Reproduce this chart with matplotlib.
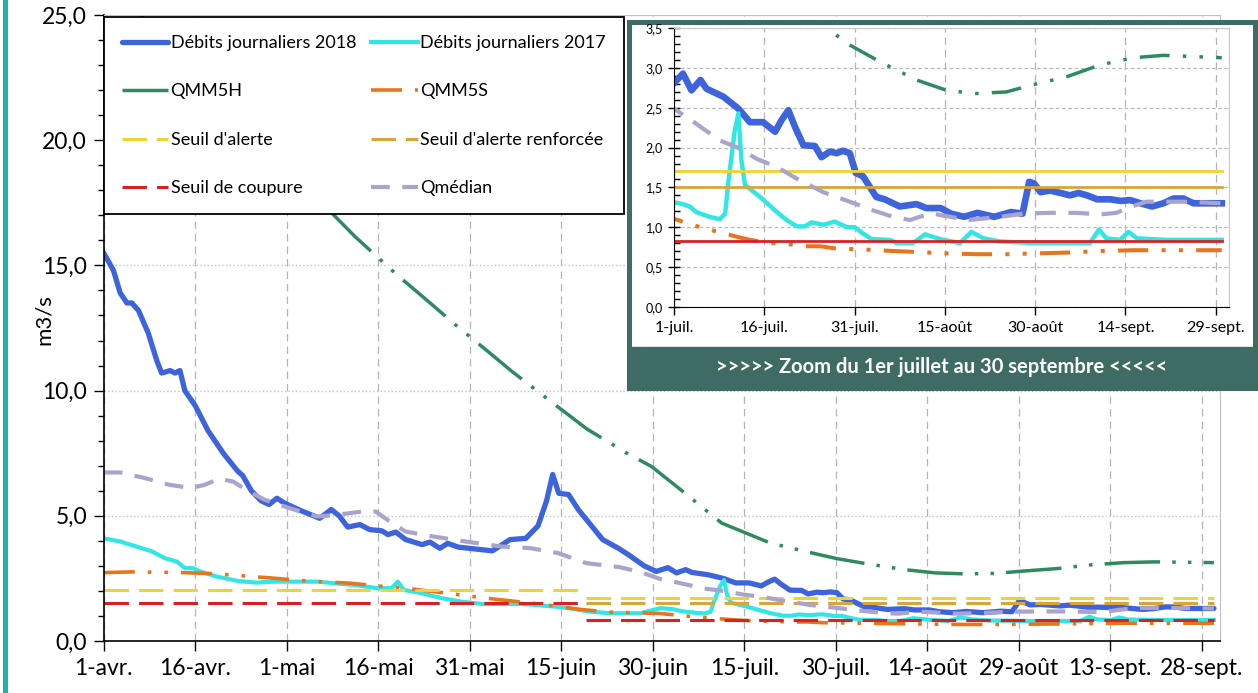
import numpy as np
import matplotlib
matplotlib.use('Agg')
import matplotlib.pyplot as plt
from matplotlib.patches import Rectangle
from matplotlib.ticker import MultipleLocator, FuncFormatter, FixedLocator

plt.rcParams['font.family'] = ['Lato', 'DejaVu Sans']

# x axis: days counted from 1 April 2018
main_ticks = [0, 15, 30, 45, 60, 75, 90, 105, 120, 135, 150, 165, 180]
main_labels = ['1-avr.', '16-avr.', '1-mai', '16-mai', '31-mai', '15-juin', '30-juin',
               '15-juil.', '30-juil.', '14-août', '29-août', '13-sept.', '28-sept.']
zoom_ticks = [91, 106, 121, 136, 151, 166, 181]
zoom_labels = ['1-juil.', '16-juil.', '31-juil.', '15-août', '30-août', '14-sept.', '29-sept.']

# Débits journaliers 2018 (m3/s)
q2018_day = [0, 1.6, 2.7, 3.8, 4.6, 5.7, 7.3, 8.7, 9.5, 10.9, 11.7, 12.5, 13.3, 15, 17.1,
             19.6, 21.9, 22.8, 24.2, 25.8, 27.1, 28.4, 29.7, 32.4, 35.4, 37.3, 38.6, 40,
             42, 43.6, 45.6, 46.6, 47.9, 49.5, 52.2, 53.5, 55.1, 56.4, 58.1, 60, 63.7,
             64.7, 66.6, 69.2, 71.2, 72.6, 73.6, 74.6, 76.2, 77.8, 79.8, 81.8, 84.4, 86.3,
             88.6, 90.6, 92.5, 93.9, 95.4, 96.4, 99.2, 101.7, 103.6, 105.8, 107.8, 108.9,
             110, 111.1, 112.5, 114.4, 115.5, 116.9, 118, 119.1, 120.2, 121.2, 122.4,
             124.6, 126, 128.5, 131.3, 132.9, 135.3, 137, 139.2, 141.4, 144.2, 147, 148.9,
             150, 150.8, 151.9, 153.5, 155.2, 156.8, 158.2, 159.6, 161.3, 163.5, 165.2,
             166.8, 168.5, 170.4, 172.3, 174, 175.6, 177.3, 182]
q2018 = [15.5, 14.8, 13.9, 13.5, 13.5, 13.2, 12.3, 11.2, 10.7, 10.8, 10.7, 10.8, 10.0, 9.4, 8.4,
         7.5, 6.8, 6.6, 6.0, 5.6, 5.45, 5.7, 5.5, 5.2, 4.9, 5.25, 5.0, 4.55,
         4.65, 4.45, 4.4, 4.25, 4.35, 4.05, 3.85, 3.95, 3.7, 3.9, 3.75, 3.7, 3.6,
         3.75, 4.05, 4.1, 4.6, 5.6, 6.65, 5.9, 5.85, 5.25, 4.65, 4.05, 3.7, 3.4,
         3.0, 2.78, 2.93, 2.72, 2.85, 2.74, 2.64, 2.49, 2.32, 2.32, 2.20, 2.35,
         2.47, 2.26, 2.03, 2.02, 1.88, 1.95, 1.93, 1.96, 1.93, 1.68, 1.64,
         1.38, 1.35, 1.26, 1.29, 1.24, 1.24, 1.17, 1.13, 1.18, 1.13, 1.19, 1.17,
         1.57, 1.55, 1.44, 1.46, 1.43, 1.40, 1.43, 1.40, 1.35, 1.35, 1.33,
         1.34, 1.30, 1.26, 1.30, 1.36, 1.36, 1.30, 1.30]

# Débits journaliers 2017
q2017_day = [0, 2.75, 5.4, 8, 10, 12, 13.3, 14.6, 15.9, 18.6, 21.9, 25.1, 27.7, 31, 35, 37.7,
             41, 44.9, 47.2, 48.2, 49.2, 52.1, 55.4, 58.7, 62, 68.6, 75.2, 79.8, 83.1, 88,
             91.2, 92.5, 93.6, 94.7, 96.9, 98.6, 99.5, 100, 101.1, 101.7, 102.2, 102.8,
             105.3, 108.1, 109.7, 111.4, 112.7, 113.9, 115.8, 117.7, 119.7, 121, 122.4,
             123.8, 126.9, 128, 130.7, 132.7, 135.2, 138.5, 140.4, 142.4, 145.2, 150.7,
             156.2, 160.1, 161.6, 162.8, 165.1, 166.5, 167.9, 172.8, 182]
q2017 = [4.1, 3.97, 3.77, 3.57, 3.31, 3.17, 2.91, 2.91, 2.77, 2.57, 2.4, 2.33, 2.37, 2.37, 2.37, 2.31,
         2.24, 2.11, 2.11, 2.37, 2.04, 1.91, 1.71, 1.57, 1.48, 1.48, 1.35, 1.17, 1.11, 1.11,
         1.31, 1.29, 1.26, 1.19, 1.13, 1.10, 1.17, 1.55, 2.22, 2.43, 1.84, 1.53,
         1.38, 1.19, 1.09, 1.01, 1.01, 1.06, 1.03, 1.07, 1.0, 1.0, 0.92,
         0.85, 0.84, 0.80, 0.80, 0.91, 0.85, 0.80, 0.94, 0.86, 0.82, 0.80,
         0.80, 0.80, 0.97, 0.86, 0.84, 0.94, 0.86, 0.84, 0.84]

# QMM5H
qmm5h_day = [0, 37.6, 41.2, 48, 53.8, 57.3, 63.3, 66.9, 72.9, 79.2, 85.7, 89.8, 94.6, 101.3,
             109.3, 116.4, 120.2, 125.2, 131.3, 136.3, 141.2, 146.2, 150.6, 156.2, 161.8,
             167.3, 172.3, 182]
qmm5h = [26.5, 17.04, 16.15, 14.64, 13.44, 12.7, 11.5, 10.77, 9.64, 8.47, 7.51, 6.97, 6.04, 4.71,
         3.91, 3.5, 3.29, 3.08, 2.85, 2.72, 2.68, 2.70, 2.79, 2.89, 3.04,
         3.13, 3.16, 3.13]

# QMM5S
qmm5s_day = [0, 4.5, 13.3, 18.6, 27.8, 33, 40.3, 46.2, 49.5, 55.5, 60.7, 65.3, 71.3, 77.8, 83.1,
             88, 91.2, 95.3, 98.4, 100.9, 103.6, 107, 109.7, 112.5, 115.3, 118, 122.4,
             127.4, 130.7, 136.2, 141.2, 146.2, 151.1, 156.2, 161.8, 167.3, 182]
qmm5s = [2.73, 2.76, 2.73, 2.68, 2.51, 2.4, 2.31, 2.17, 2.11, 1.93, 1.77, 1.64, 1.48, 1.27, 1.15,
         1.12, 1.10, 1.0, 0.94, 0.89, 0.84, 0.80, 0.79, 0.76, 0.76, 0.73, 0.72,
         0.70, 0.69, 0.67, 0.66, 0.66, 0.67, 0.68, 0.70, 0.71, 0.71]

# Seuils (change on 19 June)
seuil_day = [0, 78.5, 78.8, 79, 182]
alerte = [2.05, 2.05, np.nan, 1.7, 1.7]
renforcee = [np.nan, np.nan, np.nan, 1.5, 1.5]
coupure = [1.5, 1.5, np.nan, 0.82, 0.82]

# Qmédian
qmed_day = [0, 2.7, 6.7, 10.7, 14.3, 16.6, 18.9, 21.2, 23.8, 26.4, 30.4, 35, 38.3, 42.3, 44.6,
            46.9, 49.5, 54.1, 59.4, 65.3, 69.9, 74.5, 79.1, 84.6, 88, 91.2, 94.7, 98.6,
            101.9, 104.7, 108, 111.4, 115.8, 120.2, 124.1, 127.4, 130.2, 131.8, 134,
            136.8, 140.1, 145.2, 149, 153.5, 157.9, 161.8, 164.5, 166.7, 169.5, 175.6, 182]
qmed = [6.73, 6.73, 6.51, 6.24, 6.11, 6.24, 6.48, 6.37, 5.97, 5.64, 5.31, 4.97, 5.04, 5.17, 5.17,
        4.77, 4.37, 4.17, 3.97, 3.77, 3.71, 3.51, 3.11, 2.95, 2.75, 2.48, 2.30, 2.09,
        1.99, 1.86, 1.76, 1.61, 1.44, 1.32, 1.21, 1.13, 1.09, 1.13, 1.17,
        1.13, 1.09, 1.13, 1.17, 1.18, 1.18, 1.16, 1.18, 1.25, 1.32, 1.32, 1.30]

BLUE = '#3d64dc'
CYAN = '#33e6e6'
GREEN = '#2f8a60'
ORANGE = '#e8741e'
YELLOW = '#f2d22e'
GOLD = '#d9a53a'
RED = '#d62222'
LAVENDER = '#aaa3cb'
TEAL_BAR = '#1fb3ad'
FRAME = '#3e6b63'

W, H = 1258, 693
fig = plt.figure(figsize=(W / 100, H / 100), dpi=100)
fig.patch.set_facecolor('white')

comma = FuncFormatter(lambda v, p: f'{v:.1f}'.replace('.', ','))

# ---- main chart
ax = fig.add_axes([103.7 / W, 1 - 641 / H, 1116.3 / W, 626 / H])
ax.set_zorder(0)
l18, = ax.plot(q2018_day, q2018, color=BLUE, lw=3.8, label='Débits journaliers 2018', solid_capstyle='round')
l17, = ax.plot(q2017_day, q2017, color=CYAN, lw=3.0, label='Débits journaliers 2017')
lh, = ax.plot(qmm5h_day, qmm5h, color=GREEN, lw=2.5, ls=(0, (16, 3.5, 1, 3.5, 1, 3.5)), label='QMM5H')
ls_, = ax.plot(qmm5s_day, qmm5s, color=ORANGE, lw=2.6, ls=(0, (8.6, 3.6, 1, 3.6, 1, 3.6)), label='QMM5S')
la, = ax.plot(seuil_day, alerte, color=YELLOW, lw=2.2, ls=(0, (8, 3.3)), label="Seuil d'alerte")
lr, = ax.plot(seuil_day, renforcee, color=GOLD, lw=2.2, ls=(0, (8, 3.3)), label="Seuil d'alerte renforcée")
lc, = ax.plot(seuil_day, coupure, color=RED, lw=2.2, ls=(0, (8, 3.3)), label='Seuil de coupure')
lm, = ax.plot(qmed_day, qmed, color=LAVENDER, lw=3.0, ls=(0, (4.5, 3)), label='Qmédian')

ax.set_xlim(0, 183)
ax.set_ylim(0, 25)
ax.xaxis.set_major_locator(FixedLocator(main_ticks))
ax.set_xticklabels(main_labels)
ax.yaxis.set_major_locator(MultipleLocator(5))
ax.yaxis.set_minor_locator(MultipleLocator(1))
ax.yaxis.set_major_formatter(comma)
ax.tick_params(axis='both', which='major', direction='out', length=7, width=1, labelsize=16.5, pad=5)
ax.tick_params(axis='y', which='minor', direction='out', length=4, width=1)
ax.grid(axis='x', color='#b4b4b4', ls=(0, (6, 4)), lw=0.9)
ax.grid(axis='y', color='#c4c4c4', ls=':', lw=1.0)
for side in ['top', 'right']:
    ax.spines[side].set_color('#c0c0c0')
ax.spines['left'].set_linewidth(1.2)
ax.spines['bottom'].set_linewidth(1.2)
ax.set_ylabel('m3/s', fontsize=16)
ax.yaxis.set_label_coords(-0.045, 0.513)

handles = [l18, lh, la, lc, l17, ls_, lr, lm]
leg = ax.legend(handles=handles, ncol=2, loc='upper left',
                bbox_to_anchor=(0.0, 0.684, 0.466, 0.313), mode='expand', borderaxespad=0,
                fontsize=13, handlelength=2.55, handletextpad=0.15, columnspacing=0.7,
                labelspacing=1.8, borderpad=1.0, fancybox=False, framealpha=1,
                edgecolor='black')
leg.get_frame().set_linewidth(1.3)
leg.set_zorder(5)

# ---- inset frame and banner
fig.add_artist(Rectangle((629 / W, 1 - 388 / H), 626 / W, 366 / H, transform=fig.transFigure,
                         facecolor='white', edgecolor=FRAME, lw=3.6, zorder=2))
fig.add_artist(Rectangle((629 / W, 1 - 388 / H), 626 / W, 41 / H, transform=fig.transFigure,
                         facecolor=FRAME, edgecolor=FRAME, lw=1, zorder=2.5))
fig.text(942 / W, 1 - 367 / H, '>>>>> Zoom du 1er juillet au 30 septembre <<<<<',
         color='white', fontsize=14.5, fontweight='bold', ha='center', va='center', zorder=6)

# ---- inset zoom chart
axi = fig.add_axes([674 / W, 1 - 306.7 / H, 555 / W, 278.4 / H])
axi.set_zorder(3)
axi.plot(q2018_day, q2018, color=BLUE, lw=4.8)
axi.plot(q2017_day, q2017, color=CYAN, lw=3.2)
axi.plot(qmm5h_day, qmm5h, color=GREEN, lw=2.5, ls=(0, (8.6, 3.8, 1, 3.8, 1, 3.8)))
axi.plot(qmm5s_day, qmm5s, color=ORANGE, lw=2.9, ls=(0, (7.5, 3.3, 1, 3.3, 1, 3.3)))
axi.plot(seuil_day, alerte, color=YELLOW, lw=2.0)
axi.plot(seuil_day, renforcee, color=GOLD, lw=2.0)
axi.plot(seuil_day, coupure, color=RED, lw=2.0)
axi.plot(qmed_day, qmed, color=LAVENDER, lw=3.0, ls=(0, (5, 3)))

axi.set_xlim(91, 183.2)
axi.set_ylim(0, 3.5)
axi.xaxis.set_major_locator(FixedLocator(zoom_ticks))
axi.set_xticklabels(zoom_labels)
axi.yaxis.set_major_locator(MultipleLocator(0.5))
axi.yaxis.set_minor_locator(MultipleLocator(0.1))
axi.yaxis.set_major_formatter(comma)
axi.tick_params(axis='x', which='major', direction='out', length=6, width=1, labelsize=11.5, pad=4)
axi.tick_params(axis='y', which='major', direction='inout', length=8, width=1, labelsize=9, pad=4)
axi.tick_params(axis='y', which='minor', direction='in', length=4, width=1)
axi.grid(axis='x', color='#b4b4b4', ls=(0, (6, 4)), lw=0.9)
axi.grid(axis='y', color='#bdbdbd', ls=(0, (3, 2)), lw=0.9)
for side in ['top', 'right']:
    axi.spines[side].set_color('#c8c8c8')

# teal bar on the left edge
fig.add_artist(Rectangle((3 / W, 0), 5 / W, 1, transform=fig.transFigure,
                         facecolor=TEAL_BAR, edgecolor='none', zorder=1))

plt.savefig('out.png', dpi=100, facecolor='white')
